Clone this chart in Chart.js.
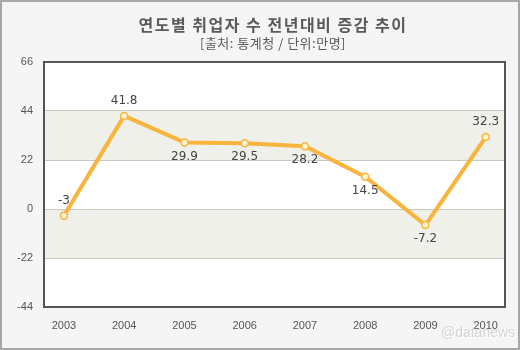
<!DOCTYPE html>
<html><head><meta charset="utf-8">
<script src="https://cdn.jsdelivr.net/npm/chart.js@4"></script>
<style>html,body{margin:0;padding:0;background:#f5f5f5;}#wrap{width:520px;height:350px;position:relative;}</style>
</head><body><div id="wrap"><canvas id="c" width="520" height="350"></canvas></div>
<script>
const years = [2003, 2004, 2005, 2006, 2007, 2008, 2009, 2010];
const values = [-3, 41.8, 29.9, 29.5, 28.2, 14.5, -7.2, 32.3];
const labelPos = ['above', 'above', 'below', 'below', 'below', 'below', 'below', 'above'];
const yTicks = [-44, -22, 0, 22, 44, 66];
const title = '연도별 취업자 수 전년대비 증감 추이';
const subtitle = '[출처: 통계청 / 단위:만명]';
const watermark = '@datanews';

const bgPlugin = {
  id: 'bg',
  beforeDraw(chart) {
    const c = chart.ctx;
    c.save();
    c.fillStyle = '#f5f5f5';
    c.fillRect(0, 0, chart.width, chart.height);
    c.strokeStyle = '#a8a8a8';
    c.lineWidth = 2;
    c.strokeRect(1, 1, chart.width - 2, chart.height - 2);
    const a = chart.chartArea, y = chart.scales.y;
    c.fillStyle = '#ffffff';
    c.fillRect(a.left, a.top, a.right - a.left, a.bottom - a.top);
    c.fillStyle = '#f0f0ea';
    c.fillRect(a.left, y.getPixelForValue(44), a.right - a.left, y.getPixelForValue(22) - y.getPixelForValue(44));
    c.fillRect(a.left, y.getPixelForValue(0), a.right - a.left, y.getPixelForValue(-22) - y.getPixelForValue(0));
    c.fillStyle = '#5a5a5a';
    c.textAlign = 'center';
    c.textBaseline = 'middle';
    c.font = 'bold 16px "Noto Sans CJK KR"';
    c.letterSpacing = '1.5px';
    c.fillText(title, 273, 25);
    c.font = '13px "Noto Sans CJK KR"';
    c.letterSpacing = '0.5px';
    c.fillText(subtitle, 273, 43);
    c.letterSpacing = '0px';
    c.restore();
  },
  afterDraw(chart) {
    const c = chart.ctx, a = chart.chartArea;
    c.save();
    c.strokeStyle = '#555555';
    c.lineWidth = 2;
    c.strokeRect(a.left, a.top, a.right - a.left, a.bottom - a.top);
    const meta = chart.getDatasetMeta(0);
    c.fillStyle = '#444444';
    c.font = '12px "DejaVu Sans"';
    c.textAlign = 'center';
    c.textBaseline = 'middle';
    meta.data.forEach((p, i) => {
      const dy = labelPos[i] === 'above' ? -15 : 14;
      c.fillText(String(values[i]), p.x, p.y + dy);
    });
    c.font = '14px "Liberation Sans"';
    c.fillStyle = '#ffffff';
    c.fillText(watermark, 479, 334);
    c.fillStyle = '#d4d4d4';
    c.fillText(watermark, 478, 333);
    c.restore();
  }
};

new Chart(document.getElementById('c'), {
  type: 'line',
  data: {
    datasets: [{
      data: years.map((yr, i) => ({x: yr, y: values[i]})),
      borderColor: '#f8b43c',
      borderWidth: 4,
      pointRadius: 3.5,
      pointBackgroundColor: '#fff4d0',
      pointBorderColor: '#f8b43c',
      pointBorderWidth: 1.5,
      tension: 0,
      fill: false
    }]
  },
  options: {
    responsive: false,
    animation: false,
    devicePixelRatio: 1,
    layout: {padding: {left: 0, top: 62, right: 15, bottom: 0}},
    plugins: {legend: {display: false}, tooltip: {enabled: false}},
    scales: {
      x: {
        type: 'linear',
        min: 2002.67,
        max: 2010.32,
        afterBuildTicks(s) { s.ticks = years.map(v => ({value: v})); },
        afterFit(s) { s.height = 43; },
        grid: {display: false, drawTicks: false},
        border: {display: false},
        ticks: {color: '#555555', font: {family: 'Liberation Sans', size: 11}, padding: 12, callback: v => String(v), autoSkip: false, maxRotation: 0}
      },
      y: {
        min: -44,
        max: 66,
        afterBuildTicks(s) { s.ticks = yTicks.map(v => ({value: v})); },
        afterFit(s) { s.width = 44; },
        grid: {color: ctx => (ctx.tick && (ctx.tick.value === 66 || ctx.tick.value === -44)) ? 'rgba(0,0,0,0)' : '#c8c8c0', lineWidth: 1, drawTicks: false},
        border: {display: false},
        ticks: {color: '#555555', font: {family: 'Liberation Sans', size: 11}, padding: 11}
      }
    }
  },
  plugins: [bgPlugin]
});
</script></body></html>
